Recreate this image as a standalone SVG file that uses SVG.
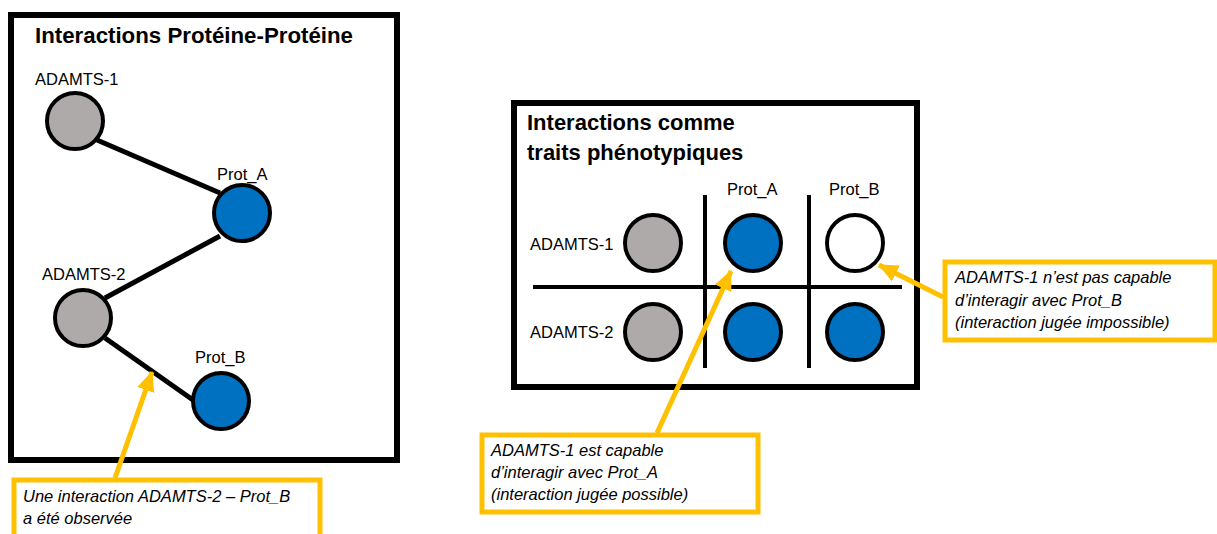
<svg xmlns="http://www.w3.org/2000/svg" width="1217" height="534" viewBox="0 0 1217 534">
<style>
.frame{fill:#fff;stroke:#000;stroke-width:6}
.title{font-family:"Liberation Sans",Arial,sans-serif;font-weight:bold;font-size:22px;fill:#000}
.lbl{font-family:"Liberation Sans",Arial,sans-serif;font-size:16.5px;fill:#000}
.note{font-family:"Liberation Sans",Arial,sans-serif;font-style:italic;font-size:16.5px;fill:#000}
.grey{fill:#AEAAAA;stroke:#000;stroke-width:4}
.blue{fill:#0070C0;stroke:#000;stroke-width:4}
.empty{fill:#fff;stroke:#000;stroke-width:4}
.edge{stroke:#000;stroke-width:5;fill:none}
.grid{stroke:#000;stroke-width:4;fill:none}
.callout{fill:#fff;stroke:#FFC000;stroke-width:5}
.arrow{stroke:#FFC000;stroke-width:5;fill:none;marker-end:url(#ah)}
</style>
<defs>
<marker id="ah" markerUnits="userSpaceOnUse" markerWidth="20" markerHeight="20" viewBox="0 0 20 20" refX="19" refY="10" orient="auto">
<path d="M0,1 L20,10 L0,19 Z" fill="#FFC000"/>
</marker>
</defs>
<rect width="1217" height="534" fill="#fff"/>

<g id="panel-ppi">
<rect class="frame" x="11" y="15" width="386" height="445"/>
<text class="title" x="35" y="43" textLength="318" lengthAdjust="spacingAndGlyphs">Interactions Protéine-Protéine</text>
</g>

<g id="panel-traits">
<rect class="frame" x="514" y="103" width="403" height="284"/>
<text class="title" x="527" y="130">Interactions comme</text>
<text class="title" x="527" y="160">traits phénotypiques</text>
<text class="lbl" x="727" y="195">Prot_A</text>
<text class="lbl" x="829" y="195">Prot_B</text>
<text class="lbl" x="530" y="250">ADAMTS-1</text>
<text class="lbl" x="530" y="338">ADAMTS-2</text>
<line class="grid" x1="705" y1="195" x2="705" y2="368"/>
<line class="grid" x1="809" y1="195" x2="809" y2="368"/>
<line class="grid" x1="533" y1="287" x2="902" y2="287"/>
</g>

<g id="connectors">
<line class="edge" x1="97" y1="140" x2="220" y2="193"/>
<line class="edge" x1="220" y1="236" x2="105" y2="298"/>
<line class="edge" x1="105" y1="338" x2="193" y2="400"/>
</g>

<g id="ppi-adamts1">
<text class="lbl" x="35" y="85">ADAMTS-1</text>
<circle class="grey" cx="75" cy="121" r="28"/>
</g>
<g id="ppi-prota">
<text class="lbl" x="217" y="180">Prot_A</text>
<circle class="blue" cx="242" cy="213" r="28"/>
</g>
<g id="ppi-adamts2">
<text class="lbl" x="42" y="280">ADAMTS-2</text>
<circle class="grey" cx="83" cy="318" r="28"/>
</g>
<g id="ppi-protb">
<text class="lbl" x="195" y="363">Prot_B</text>
<circle class="blue" cx="221" cy="401" r="28"/>
</g>

<g id="cell-a1-self"><circle class="grey" cx="653" cy="243" r="28"/></g>
<g id="cell-a1-prota"><circle class="blue" cx="753" cy="243" r="28"/></g>
<g id="cell-a1-protb"><circle class="empty" cx="855" cy="243" r="28"/></g>
<g id="cell-a2-self"><circle class="grey" cx="653" cy="332" r="28"/></g>
<g id="cell-a2-prota"><circle class="blue" cx="753" cy="332" r="28"/></g>
<g id="cell-a2-protb"><circle class="blue" cx="855" cy="332" r="28"/></g>

<g id="note-observed">
<rect class="callout" x="14" y="480" width="306" height="60"/>
<text class="note" x="23" y="502">Une interaction ADAMTS-2 – Prot_B</text>
<text class="note" x="23" y="524">a été observée</text>
</g>
<g id="note-possible">
<rect class="callout" x="482" y="435" width="276" height="77"/>
<text class="note" x="491" y="456">ADAMTS-1 est capable</text>
<text class="note" x="491" y="478">d’interagir avec Prot_A</text>
<text class="note" x="491" y="500">(interaction jugée possible)</text>
</g>
<g id="note-impossible">
<rect class="callout" x="945" y="262" width="270" height="78"/>
<text class="note" x="955" y="283">ADAMTS-1 n’est pas capable</text>
<text class="note" x="955" y="306">d’interagir avec Prot_B</text>
<text class="note" x="955" y="328">(interaction jugée impossible)</text>
</g>

<g id="callout-arrows">
<line class="arrow" x1="115" y1="478" x2="152" y2="372"/>
<line class="arrow" x1="657" y1="433" x2="731" y2="271"/>
<line class="arrow" x1="943" y1="297" x2="879" y2="265"/>
</g>
</svg>
